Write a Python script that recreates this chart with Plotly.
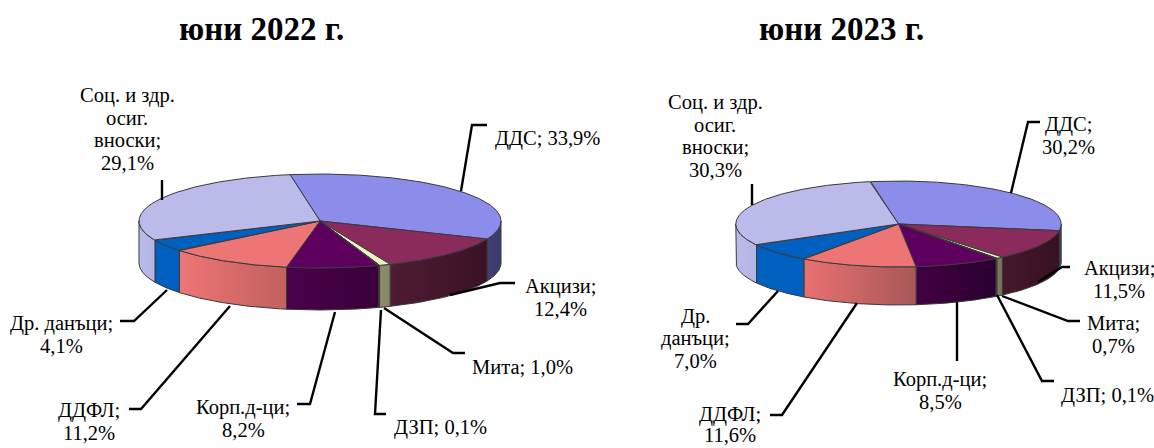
import numpy as np
import plotly.graph_objects as go

categories = ["ДДС", "Акцизи", "Мита", "ДЗП", "Корп.д-ци", "ДДФЛ", "Др. данъци", "Соц. и здр. осиг. вноски"]
values_2022 = [33.9, 12.4, 1.0, 0.1, 8.2, 11.2, 4.1, 29.1]
values_2023 = [30.2, 11.5, 0.7, 0.1, 8.5, 11.6, 7.0, 30.3]
titles = ["юни 2022 г.", "юни 2023 г."]

# Styling per category: top colour, wall gradient left / right
TOP = ["#8C8CEB", "#8A2B5B", "#EFEFC4", "#EFEFC4", "#5E005E", "#EE7575", "#0060C0", "#BBBBEB"]
WALL = [
    [("#3F3F72", "#3B3B6C"), ("#4E1C33", "#3A1225"), ("#8C8C6C", "#86866A"), ("#8C8C6C", "#86866A"),
     ("#4C004C", "#38003A"), ("#EE7575", "#C26060"), ("#0060C0", "#0060C0"), ("#BBBBEB", "#B4B4E4")],
    [("#3F3F72", "#3B3B6C"), ("#44182C", "#371122"), ("#7A7A5C", "#74745A"), ("#7A7A5C", "#74745A"),
     ("#420042", "#2A0030"), ("#E87070", "#A85858"), ("#0060C0", "#0060C0"), ("#BBBBEB", "#B4B4E4")],
]

# Pie geometry in page pixels: cx, cy, rx, ry, depth, start angle
GEOM = [
    dict(cx=320, cy=221, rx=181, ry=47, depth=42, start=-9.5),
    dict(cx=898.5, cy=224, rx=162.7, ry=43, depth=38, start=-9.8),
]

LEADERS = [
    [[(461, 191), (472, 125), (487, 125)], [(450, 295), (500, 283), (515, 283)], [(384, 308), (453, 353), (465, 353)],
     [(381, 310), (375, 414), (386, 414)], [(335, 312), (310, 404), (297, 404)], [(230, 306), (141, 409), (129, 409)],
     [(167, 290), (134, 321), (120, 321)], [(162, 200), (162, 180)]],
    [[(1011, 193), (1028, 122), (1040, 122)], [(1038, 282), (1062, 267), (1070, 267)], [(1002, 296), (1068, 321), (1080, 321)],
     [(997, 295), (1042, 381), (1054, 381)], [(957, 302), (957, 361)], [(857, 303), (782, 415), (770, 415)],
     [(778, 291), (748, 324), (736, 324)], [(752, 205), (752, 184)]],
]

LABELS = [
    [(["ДДС; 33,9%"], 547, 138), (["Акцизи;", "12,4%"], 560, 286), (["Мита; 1,0%"], 522, 367), (["ДЗП; 0,1%"], 440, 427),
     (["Корп.д-ци;", "8,2%"], 243, 407), (["ДДФЛ;", "11,2%"], 89, 410), (["Др. данъци;", "4,1%"], 61, 323),
     (["Соц. и здр.", "осиг.", "вноски;", "29,1%"], 127, 95)],
    [(["ДДС;", "30,2%"], 1068, 124), (["Акцизи;", "11,5%"], 1119, 268), (["Мита;", "0,7%"], 1113, 323), (["ДЗП; 0,1%"], 1107, 395),
     (["Корп.д-ци;", "8,5%"], 940, 379), (["ДДФЛ;"], 730, 414), (["11,6%"], 730, 434.5), (["Др.", "данъци;", "7,0%"], 695, 316),
     (["Соц. и здр.", "осиг.", "вноски;", "30,3%"], 715, 102)],
]
TITLE_POS = [(261, 29), (841, 29)]
EDGE = "#3A3A3A"
FONT = "Liberation Serif"

fig = go.Figure()


def arc(g, a0, a1, dy=0.0):
    t = np.radians(np.linspace(a0, a1, max(int(abs(a1 - a0) * 2), 2)))
    return g["cx"] + g["rx"] * np.sin(t), g["cy"] - g["ry"] * np.cos(t) + dy


for idx, vals in enumerate([values_2022, values_2023]):
    g = GEOM[idx]
    edges = g["start"] + np.concatenate([[0], np.cumsum(vals)]) * 3.6
    # side walls: only the front half of the rim is visible
    for i in range(len(vals)):
        a0, a1 = max(edges[i], 90), min(edges[i + 1], 270)
        if a1 <= a0:
            continue
        xt, yt = arc(g, a0, a1)
        xb, yb = arc(g, a1, a0, g["depth"])
        c0, c1 = WALL[idx][i]
        fig.add_trace(go.Scatter(
            x=np.r_[xt, xb, xt[0]], y=np.r_[yt, yb, yt[0]], mode="lines", fill="toself",
            fillgradient=dict(type="horizontal", colorscale=[[0, c0], [1, c1]]),
            line=dict(color=EDGE, width=1), hoverinfo="skip", showlegend=False))
    # top face
    for i in range(len(vals)):
        xa, ya = arc(g, edges[i], edges[i + 1])
        fig.add_trace(go.Scatter(
            x=np.r_[g["cx"], xa, g["cx"]], y=np.r_[g["cy"], ya, g["cy"]], mode="lines", fill="toself",
            fillcolor=TOP[i], line=dict(color=EDGE, width=1), hoverinfo="skip", showlegend=False,
            name=categories[i]))
    # leader lines
    for pts in LEADERS[idx]:
        fig.add_trace(go.Scatter(x=[p[0] for p in pts], y=[p[1] for p in pts], mode="lines",
                                 line=dict(color="#000000", width=2.4), hoverinfo="skip", showlegend=False))

annotations = []
for idx in range(2):
    for lines, x, y in LABELS[idx]:
        for k, line in enumerate(lines):
            annotations.append(dict(x=x, y=y + k * 22.5, text=line, showarrow=False, xanchor="center", yanchor="middle",
                                    font=dict(family=FONT, size=20.5, color="#000000")))
    annotations.append(dict(x=TITLE_POS[idx][0], y=TITLE_POS[idx][1], text="<b>%s</b>" % titles[idx], showarrow=False,
                            xanchor="center", yanchor="middle", font=dict(family=FONT, size=33, color="#000000")))

fig.update_layout(
    width=1154, height=448, margin=dict(l=0, r=0, t=0, b=0), paper_bgcolor="white", plot_bgcolor="white",
    xaxis=dict(range=[0, 1154], visible=False, fixedrange=True),
    yaxis=dict(range=[448, 0], visible=False, fixedrange=True),
    annotations=annotations, showlegend=False)

fig.write_html("out.html", config={"displayModeBar": False},
               post_script="document.body.style.margin='0';document.documentElement.style.overflow='hidden';")
